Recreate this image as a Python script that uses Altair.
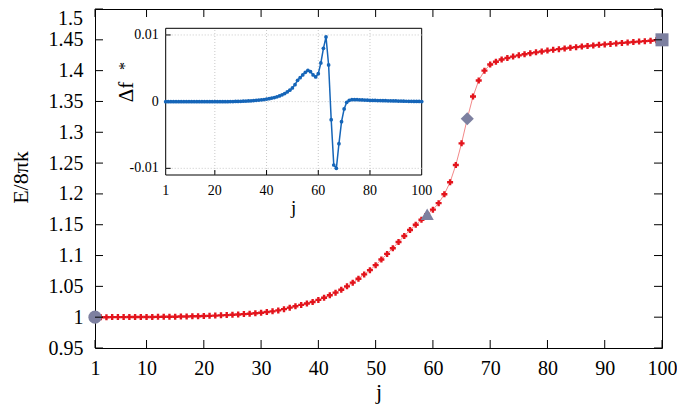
import altair as alt
import pandas as pd

# ---------------- data ----------------
j = list(range(1, 101))
energy = [
    1.0000, 1.0000, 1.0000, 1.0001, 1.0001, 1.0001, 1.0002, 1.0002, 1.0003, 1.0003,
    1.0004, 1.0005, 1.0006, 1.0007, 1.0008, 1.0010, 1.0012, 1.0014, 1.0016, 1.0019,
    1.0022, 1.0026, 1.0030, 1.0034, 1.0039, 1.0044, 1.0050, 1.0056, 1.0064, 1.0073,
    1.0083, 1.0095, 1.0110, 1.0130, 1.0155, 1.0177, 1.0199, 1.0222, 1.0247, 1.0280,
    1.0315, 1.0355, 1.0398, 1.0446, 1.0500, 1.0560, 1.0624, 1.0694, 1.0763, 1.0844,
    1.0935, 1.1027, 1.1118, 1.1220, 1.1317, 1.1414, 1.1500, 1.1580, 1.1670, 1.1745,
    1.1850, 1.1995, 1.2190, 1.2470, 1.2820, 1.3220, 1.3580, 1.3840, 1.4000, 1.4100,
    1.4145, 1.4180, 1.4205, 1.4228, 1.4248, 1.4266, 1.4282, 1.4297, 1.4311, 1.4325,
    1.4337, 1.4349, 1.4360, 1.4371, 1.4381, 1.4391, 1.4400, 1.4409, 1.4418, 1.4426,
    1.4434, 1.4442, 1.4450, 1.4457, 1.4464, 1.4471, 1.4478, 1.4485, 1.4492, 1.4500,
]
delta_f = [
    0, 0, 0, 0, 0, 0, 0, 0, 0, 0,
    0, 0, 0, 0, 0, 0, 0, 0, 0, 0,
    0, 0, 0, 0, 0, 0.00001, 0.00002, 0.00003, 0.00004, 0.00005,
    0.00007, 0.00009, 0.00011, 0.00013, 0.00016, 0.00020, 0.00024, 0.00028, 0.00032, 0.00038,
    0.00045, 0.00053, 0.00062, 0.00073, 0.00086, 0.00103, 0.00122, 0.00145, 0.00172, 0.00205,
    0.00255, 0.00320, 0.00360, 0.00400, 0.00440, 0.00470, 0.00450, 0.00400, 0.00370, 0.00420,
    0.00580, 0.00800, 0.00970, 0.00550, -0.00270, -0.00950, -0.01000, -0.00630, -0.00300, -0.00110,
    -0.00010, 0.00020, 0.00030, 0.00030, 0.00030, 0.00028, 0.00026, 0.00024, 0.00022, 0.00020,
    0.00019, 0.00018, 0.00017, 0.00016, 0.00015, 0.00014, 0.00013, 0.00012, 0.00011, 0.00010,
    0.00009, 0.00008, 0.00007, 0.00006, 0.00005, 0.00005, 0.00004, 0.00003, 0.00003, 0.00002,
]
marker_j = [1, 59, 66, 100]
marker_shape = ["circle", "triangle-up", "diamond", "square"]
marker_size = [175, 170, 150, 200]

x_ticks = [1, 10, 20, 30, 40, 50, 60, 70, 80, 90, 100]
y_ticks = [0.95, 1.0, 1.05, 1.1, 1.15, 1.2, 1.25, 1.3, 1.35, 1.4, 1.45, 1.5]
y_top_label = ["1.5"]

inset_x_ticks = [1, 20, 40, 60, 80, 100]
inset_x_labels = ["1", "20", "40", "60", "80", "100"]
inset_y_ticks = [0.01, 0, -0.01]
inset_y_labels = ["0.01", "0", "-0.01"]

# ---------------- layout / style ----------------
LEFT, TOP = 87, 1          # padding inside the svg (page = +8)
W, H = 567, 339
SVG_W, SVG_H = 669, 398
GX = LEFT + 8              # page x of the plot's left edge
GY = TOP + 8               # page y of the plot's top edge
FONT = "Liberation Serif"
RED = "#e3141c"
SLATE = "#7d80a0"
BLUE = "#1565b8"

XDOM = [1, 100]
YDOM = [0.95, 1.5]
IXDOM = [1, 100]
IYDOM = [-0.011, 0.011]
IXR = [165.7 - GX, 421.7 - GX]
IYR = [175 - GY, 28.3 - GY]


def xs():
    return alt.Scale(domain=XDOM, range=[0, W], nice=False, zero=False)


def ys():
    return alt.Scale(domain=YDOM, range=[H, 0], nice=False, zero=False)


def ixs():
    return alt.Scale(domain=IXDOM, range=IXR, nice=False, zero=False)


def iys():
    return alt.Scale(domain=IYDOM, range=IYR, nice=False, zero=False)


df = pd.DataFrame({"j": j, "E": energy, "df": delta_f})
df_m = pd.DataFrame({
    "j": marker_j,
    "E": [energy[k - 1] for k in marker_j],
    "shape": marker_shape,
})

x_axis = alt.Axis(
    orient="bottom", values=x_ticks, title="j", domain=False, ticks=False, tickSize=0, grid=False,
    labelPadding=10, labelFont=FONT, labelFontSize=20, labelColor="black",
    labelFlush=False, labelOverlap=False, labelAngle=0,
    titleFont=FONT, titleFontSize=22, titleFontWeight="normal", titleColor="black",
    titleY=50, titleBaseline="alphabetic",
)
y_axis = alt.Axis(
    orient="left", values=y_ticks[:-1], format=".2~f", title="E/8πk", domain=False, ticks=False,
    tickSize=0, grid=False, labelPadding=12, labelFont=FONT, labelFontSize=20,
    labelColor="black", labelFlush=False, labelOverlap=False,
    titleFont=FONT, titleFontSize=22, titleFontWeight="normal", titleColor="black",
    titleX=27 - GX, titleY=177 - GY, titleAngle=270, titleBaseline="alphabetic",
    titleAlign="center",
)

# ---------------- main plot ----------------
line = alt.Chart(df).mark_line(color="#f07a7a", strokeWidth=0.9).encode(
    x=alt.X("j:Q", scale=xs(), axis=x_axis),
    y=alt.Y("E:Q", scale=ys(), axis=y_axis),
)
pts = alt.Chart(df).mark_point(shape="cross", filled=True, size=36, color=RED, opacity=1).encode(
    x=alt.X("j:Q", scale=xs(), axis=None),
    y=alt.Y("E:Q", scale=ys(), axis=None),
)
big = alt.Chart(df_m).mark_point(filled=True, color=SLATE, opacity=1).encode(
    x=alt.X("j:Q", scale=xs(), axis=None),
    y=alt.Y("E:Q", scale=ys(), axis=None),
    shape=alt.Shape("shape:N", scale=alt.Scale(domain=marker_shape, range=marker_shape), legend=None),
    size=alt.Size("shape:N", scale=alt.Scale(domain=marker_shape, range=marker_size), legend=None),
)
top_lab = alt.Chart(pd.DataFrame({"t": [y_ticks[-1]], "lab": y_top_label})).mark_text(
    font=FONT, fontSize=20, color="black", align="right", baseline="top", dy=0
).encode(
    y=alt.Y("t:Q", scale=ys(), axis=None),
    x=alt.value(-12),
    text="lab:N",
)

xt = pd.DataFrame({"t": x_ticks})
yt = pd.DataFrame({"t": y_ticks})
TL = 8
tick_b = alt.Chart(xt).mark_rule(color="black", strokeWidth=1).encode(
    x=alt.X("t:Q", scale=xs(), axis=None), y=alt.value(H), y2=alt.value(H - TL))
tick_t = alt.Chart(xt).mark_rule(color="black", strokeWidth=1).encode(
    x=alt.X("t:Q", scale=xs(), axis=None), y=alt.value(0), y2=alt.value(TL))
tick_l = alt.Chart(yt).mark_rule(color="black", strokeWidth=1).encode(
    y=alt.Y("t:Q", scale=ys(), axis=None), x=alt.value(0), x2=alt.value(TL))
tick_r = alt.Chart(yt).mark_rule(color="black", strokeWidth=1).encode(
    y=alt.Y("t:Q", scale=ys(), axis=None), x=alt.value(W), x2=alt.value(W - TL))

# ---------------- inset ----------------
box_df = pd.DataFrame({"x1": [IXDOM[0]], "x2": [IXDOM[1]], "y1": [IYDOM[0]], "y2": [IYDOM[1]]})
box = alt.Chart(box_df).mark_rect(fill="white", stroke="black", strokeWidth=1).encode(
    x=alt.X("x1:Q", scale=ixs(), axis=None), x2="x2:Q",
    y=alt.Y("y1:Q", scale=iys(), axis=None), y2="y2:Q",
)

vg_df = pd.DataFrame({"t": inset_x_ticks[1:-1], "lo": IYDOM[0], "hi": IYDOM[1]})
hg_df = pd.DataFrame({"t": inset_y_ticks, "lo": IXDOM[0], "hi": IXDOM[1]})
vgrid = alt.Chart(vg_df).mark_rule(color="#c8c8c8", strokeWidth=1, strokeDash=[1, 2]).encode(
    x=alt.X("t:Q", scale=ixs(), axis=None),
    y=alt.Y("lo:Q", scale=iys(), axis=None), y2="hi:Q",
)
hgrid = alt.Chart(hg_df).mark_rule(color="#c8c8c8", strokeWidth=1, strokeDash=[1, 2]).encode(
    y=alt.Y("t:Q", scale=iys(), axis=None),
    x=alt.X("lo:Q", scale=ixs(), axis=None), x2="hi:Q",
)

itl = 5.0
ity_len = (IYDOM[1] - IYDOM[0]) * itl / (IYR[0] - IYR[1])
itx_len = (IXDOM[1] - IXDOM[0]) * itl / (IXR[1] - IXR[0])
ibt_df = pd.DataFrame({"t": inset_x_ticks[1:-1], "lo": IYDOM[0], "hi": IYDOM[0] + ity_len})
ilt_df = pd.DataFrame({"t": inset_y_ticks, "lo": IXDOM[0], "hi": IXDOM[0] + itx_len})
ibt = alt.Chart(ibt_df).mark_rule(color="black", strokeWidth=1).encode(
    x=alt.X("t:Q", scale=ixs(), axis=None),
    y=alt.Y("lo:Q", scale=iys(), axis=None), y2="hi:Q",
)
ilt = alt.Chart(ilt_df).mark_rule(color="black", strokeWidth=1).encode(
    y=alt.Y("t:Q", scale=iys(), axis=None),
    x=alt.X("lo:Q", scale=ixs(), axis=None), x2="hi:Q",
)

iline = alt.Chart(df).mark_line(color=BLUE, strokeWidth=1.5).encode(
    x=alt.X("j:Q", scale=ixs(), axis=None),
    y=alt.Y("df:Q", scale=iys(), axis=None),
)
ipts = alt.Chart(df).mark_point(shape="circle", filled=True, size=14, color=BLUE, opacity=1).encode(
    x=alt.X("j:Q", scale=ixs(), axis=None),
    y=alt.Y("df:Q", scale=iys(), axis=None),
)

ixl_df = pd.DataFrame({"t": inset_x_ticks, "lab": inset_x_labels, "yy": IYDOM[0]})
iyl_df = pd.DataFrame({"t": inset_y_ticks, "lab": inset_y_labels, "xx": IXDOM[0]})
ixl = alt.Chart(ixl_df).mark_text(font=FONT, fontSize=14, color="black", baseline="middle",
                                  align="center", dy=16).encode(
    x=alt.X("t:Q", scale=ixs(), axis=None),
    y=alt.Y("yy:Q", scale=iys(), axis=None),
    text="lab:N",
)
iyl = alt.Chart(iyl_df).mark_text(font=FONT, fontSize=14, color="black", baseline="middle",
                                  align="right", dx=-7).encode(
    x=alt.X("xx:Q", scale=ixs(), axis=None),
    y=alt.Y("t:Q", scale=iys(), axis=None),
    text="lab:N",
)
ij_df = pd.DataFrame({"t": [(IXDOM[0] + IXDOM[1]) / 2], "yy": [IYDOM[0]], "lab": ["j"]})
ij = alt.Chart(ij_df).mark_text(font=FONT, fontSize=19, color="black", baseline="middle",
                                align="center", dy=33).encode(
    x=alt.X("t:Q", scale=ixs(), axis=None),
    y=alt.Y("yy:Q", scale=iys(), axis=None),
    text="lab:N",
)
idf = alt.Chart(pd.DataFrame({"lab": ["Δf"]})).mark_text(
    font=FONT, fontSize=21, color="black", baseline="middle", align="center", angle=270
).encode(x=alt.value(127 - GX), y=alt.value(92 - GY), text="lab:N")
istar = alt.Chart(pd.DataFrame({"lab": ["*"]})).mark_text(
    font=FONT, fontSize=16, color="black", baseline="middle", align="center", angle=270
).encode(x=alt.value(125 - GX), y=alt.value(66 - GY), text="lab:N")

chart = (
    alt.layer(
        line, pts, big, top_lab, tick_b, tick_t, tick_l, tick_r,
        box, vgrid, hgrid, ibt, ilt, iline, ipts, ixl, iyl, ij, idf, istar,
    )
    .resolve_scale(x="independent", y="independent")
    .properties(
        width=W, height=H,
        padding={"left": LEFT, "top": TOP, "right": SVG_W - LEFT - W, "bottom": SVG_H - TOP - H},
        autosize=alt.AutoSizeParams(type="none"),
        background="white",
    )
    .configure_view(stroke="black", strokeWidth=1)
)

chart.save("out.html", embed_options={"renderer": "svg", "actions": False})
